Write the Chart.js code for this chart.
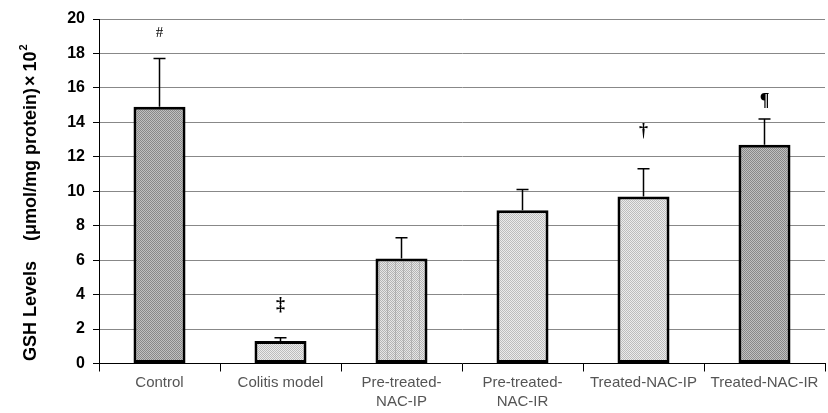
<!DOCTYPE html>
<html><head><meta charset="utf-8">
<script src="https://cdn.jsdelivr.net/npm/chart.js@4"></script>
<style>html,body{margin:0;padding:0;background:#fff}#w{width:828px;height:413px}</style>
</head><body><div id="w"><canvas id="c"></canvas></div>
<script>
const categories = [["Control"],["Colitis model"],["Pre-treated-","NAC-IP"],["Pre-treated-","NAC-IR"],["Treated-NAC-IP"],["Treated-NAC-IR"]];
const values = [14.9, 1.3, 6.1, 8.9, 9.7, 12.7];
const errorTops = [17.7, 1.5, 7.3, 10.1, 11.3, 14.2];
const marks = ["#", "‡", "", "", "†", "¶"];
const markLevels = [19.2, 3.4, null, null, 13.5, 15.2];
const yTicks = [0,2,4,6,8,10,12,14,16,18,20];
const titleParts = ["GSH Levels", "(μmol/mg protein)", "×", "10", "2"];

function pattern(bg, fg, kind){
  const c = document.createElement('canvas'); c.width = 8; c.height = 8;
  const x = c.getContext('2d');
  x.fillStyle = bg; x.fillRect(0,0,8,8);
  x.fillStyle = fg;
  for (let i=0;i<8;i++) for (let j=0;j<8;j++) if ((i+j)%2===0) x.fillRect(i,j,1,1);
  if (kind==='v'){ x.fillStyle='rgba(150,150,150,0.5)'; x.fillRect(3,0,1,8); }
  return x.createPattern(c,'repeat');
}
const ctx = document.getElementById('c').getContext('2d');
const dark = pattern('#c0c0c0','#888888');
const light = pattern('#e6e6e6','#b4b4b4','v');
const light2 = pattern('#ececec','#bdbdbd');
const fills = [dark, light2, light, light2, light2, dark];

const extras = {
  id:'extras',
  afterDatasetsDraw(chart){
    const c = chart.ctx, xs = chart.scales.x, ys = chart.scales.y;
    c.save();
    c.strokeStyle = '#000'; c.lineWidth = 1.5;
    values.forEach((v,i)=>{
      const x = xs.getPixelForValue(i);
      const y0 = ys.getPixelForValue(v), y1 = ys.getPixelForValue(errorTops[i]);
      c.beginPath(); c.moveTo(x,y0); c.lineTo(x,y1); c.moveTo(x-6,y1); c.lineTo(x+6,y1); c.stroke();
    });
    c.fillStyle = '#000'; c.textAlign='center'; c.textBaseline='middle';
    marks.forEach((m,i)=>{
      if(!m) return;
      c.font = (m==='#' ? '15px' : 'bold 18px') + ' "Liberation Serif", serif';
      c.fillText(m, xs.getPixelForValue(i), ys.getPixelForValue(markLevels[i]));
    });
    // rotated y-axis title
    c.translate(36, 361); c.rotate(-Math.PI/2);
    c.textAlign='left'; c.textBaseline='alphabetic';
    c.font = 'bold 18px "Liberation Sans", Arial';
    let x = 0;
    c.fillText(titleParts[0], x, 0); x += c.measureText(titleParts[0]).width + 20;
    c.fillText(titleParts[1], x, 0); x += c.measureText(titleParts[1]).width + 2;
    c.fillText(titleParts[2], x, 0); x += c.measureText(titleParts[2]).width + 4;
    c.fillText(titleParts[3], x, 0); x += c.measureText(titleParts[3]).width + 1;
    c.font = 'bold 11px "Liberation Sans", Arial';
    c.fillText(titleParts[4], x, -9);
    c.restore();
  }
};

new Chart(ctx, {
  type:'bar',
  data:{ labels: categories, datasets:[{ data: values, backgroundColor: fills, borderColor:'#000', borderWidth:3, borderSkipped:false, barPercentage:0.43, categoryPercentage:1 }]},
  options:{
    responsive:true, maintainAspectRatio:false, animation:false,
    layout:{ padding:{ top:19, right:3, left:0, bottom:0 } },
    plugins:{ legend:{display:false}, tooltip:{enabled:false} },
    scales:{
      x:{
        grid:{ offset:true, drawOnChartArea:false, tickLength:8, color:'#000' },
        border:{ color:'#000' },
        ticks:{ color:'#555', font:{ family:'"Liberation Sans", Arial', size:15, lineHeight:1.25 }, maxRotation:0, padding:2 }
      },
      y:{
        min:0, max:20,
        afterFit(s){ s.width = 99; },
        afterBuildTicks(s){ s.ticks = yTicks.map(v=>({value:v})); },
        grid:{ color:'#888', tickLength:6, tickColor:'#000' },
        border:{ color:'#000' },
        ticks:{ color:'#000', font:{ family:'"Liberation Sans", Arial', size:16, weight:'bold' }, padding:8 }
      }
    }
  },
  plugins:[extras]
});
</script></body></html>
